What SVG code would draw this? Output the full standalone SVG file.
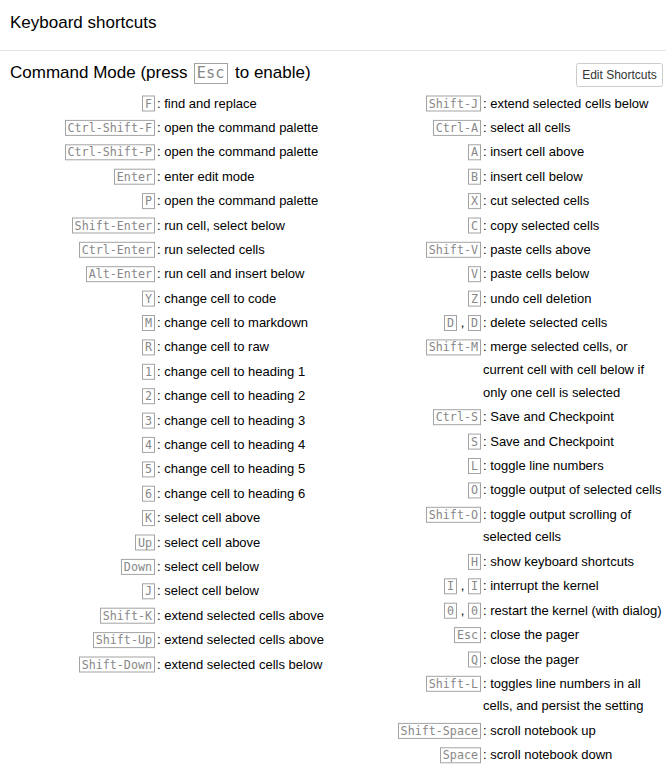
<svg xmlns="http://www.w3.org/2000/svg" width="666" height="769" viewBox="0 0 666 769">
<style>
.t{font-family:"Liberation Sans",Arial,sans-serif;fill:#000}
.h{font-size:17px}
.d{font-size:13px}
.k{font-family:"DejaVu Sans Mono",monospace;font-size:11.7px;fill:#888;text-anchor:end}
.kb{fill:none;stroke:#a3a3a3;stroke-width:1}
.btn{fill:#fff;stroke:#ccc;stroke-width:1}
</style>
<rect width="666" height="769" fill="#fff"/>
<g id="header">
<text class="t h" x="10" y="28">Keyboard shortcuts</text>
<line x1="0" y1="50.5" x2="666" y2="50.5" stroke="#e5e5e5" stroke-width="1"/>
<text class="t h" x="10" y="78">Command Mode (press</text>
<rect class="kb" x="194.5" y="63.5" width="33" height="20"/>
<text class="k" x="224.5" y="78" style="font-size:15.3px">Esc</text>
<text class="t h" x="235" y="78">to enable)</text>
</g>
<g id="edit-shortcuts">
<rect class="btn" x="576.5" y="63.5" width="86" height="23" rx="2"/>
<text class="t" x="619.5" y="79" style="font-size:12px;fill:#333;text-anchor:middle">Edit Shortcuts</text>
</g>
<g id="left-column">
<g id="l0" transform="translate(0,107.5)"><rect class="kb" x="142.5" y="-11.5" width="12" height="15"/><text class="k" x="152" y="0">F</text><text class="t d" x="157" y="0">: find and replace</text></g>
<g id="l1" transform="translate(0,131.9)"><rect class="kb" x="65.5" y="-11.5" width="89" height="15"/><text class="k" x="152" y="0">Ctrl-Shift-F</text><text class="t d" x="157" y="0">: open the command palette</text></g>
<g id="l2" transform="translate(0,156.3)"><rect class="kb" x="65.5" y="-11.5" width="89" height="15"/><text class="k" x="152" y="0">Ctrl-Shift-P</text><text class="t d" x="157" y="0">: open the command palette</text></g>
<g id="l3" transform="translate(0,180.7)"><rect class="kb" x="114.5" y="-11.5" width="40" height="15"/><text class="k" x="152" y="0">Enter</text><text class="t d" x="157" y="0">: enter edit mode</text></g>
<g id="l4" transform="translate(0,205.1)"><rect class="kb" x="142.5" y="-11.5" width="12" height="15"/><text class="k" x="152" y="0">P</text><text class="t d" x="157" y="0">: open the command palette</text></g>
<g id="l5" transform="translate(0,229.5)"><rect class="kb" x="72.5" y="-11.5" width="82" height="15"/><text class="k" x="152" y="0">Shift-Enter</text><text class="t d" x="157" y="0">: run cell, select below</text></g>
<g id="l6" transform="translate(0,253.8)"><rect class="kb" x="79.5" y="-11.5" width="75" height="15"/><text class="k" x="152" y="0">Ctrl-Enter</text><text class="t d" x="157" y="0">: run selected cells</text></g>
<g id="l7" transform="translate(0,278.2)"><rect class="kb" x="86.5" y="-11.5" width="68" height="15"/><text class="k" x="152" y="0">Alt-Enter</text><text class="t d" x="157" y="0">: run cell and insert below</text></g>
<g id="l8" transform="translate(0,302.6)"><rect class="kb" x="142.5" y="-11.5" width="12" height="15"/><text class="k" x="152" y="0">Y</text><text class="t d" x="157" y="0">: change cell to code</text></g>
<g id="l9" transform="translate(0,327)"><rect class="kb" x="142.5" y="-11.5" width="12" height="15"/><text class="k" x="152" y="0">M</text><text class="t d" x="157" y="0">: change cell to markdown</text></g>
<g id="l10" transform="translate(0,351.4)"><rect class="kb" x="142.5" y="-11.5" width="12" height="15"/><text class="k" x="152" y="0">R</text><text class="t d" x="157" y="0">: change cell to raw</text></g>
<g id="l11" transform="translate(0,375.8)"><rect class="kb" x="142.5" y="-11.5" width="12" height="15"/><text class="k" x="152" y="0">1</text><text class="t d" x="157" y="0">: change cell to heading 1</text></g>
<g id="l12" transform="translate(0,400.2)"><rect class="kb" x="142.5" y="-11.5" width="12" height="15"/><text class="k" x="152" y="0">2</text><text class="t d" x="157" y="0">: change cell to heading 2</text></g>
<g id="l13" transform="translate(0,424.6)"><rect class="kb" x="142.5" y="-11.5" width="12" height="15"/><text class="k" x="152" y="0">3</text><text class="t d" x="157" y="0">: change cell to heading 3</text></g>
<g id="l14" transform="translate(0,448.9)"><rect class="kb" x="142.5" y="-11.5" width="12" height="15"/><text class="k" x="152" y="0">4</text><text class="t d" x="157" y="0">: change cell to heading 4</text></g>
<g id="l15" transform="translate(0,473.4)"><rect class="kb" x="142.5" y="-11.5" width="12" height="15"/><text class="k" x="152" y="0">5</text><text class="t d" x="157" y="0">: change cell to heading 5</text></g>
<g id="l16" transform="translate(0,497.7)"><rect class="kb" x="142.5" y="-11.5" width="12" height="15"/><text class="k" x="152" y="0">6</text><text class="t d" x="157" y="0">: change cell to heading 6</text></g>
<g id="l17" transform="translate(0,522.1)"><rect class="kb" x="142.5" y="-11.5" width="12" height="15"/><text class="k" x="152" y="0">K</text><text class="t d" x="157" y="0">: select cell above</text></g>
<g id="l18" transform="translate(0,546.5)"><rect class="kb" x="135.5" y="-11.5" width="19" height="15"/><text class="k" x="152" y="0">Up</text><text class="t d" x="157" y="0">: select cell above</text></g>
<g id="l19" transform="translate(0,570.9)"><rect class="kb" x="121.5" y="-11.5" width="33" height="15"/><text class="k" x="152" y="0">Down</text><text class="t d" x="157" y="0">: select cell below</text></g>
<g id="l20" transform="translate(0,595.3)"><rect class="kb" x="142.5" y="-11.5" width="12" height="15"/><text class="k" x="152" y="0">J</text><text class="t d" x="157" y="0">: select cell below</text></g>
<g id="l21" transform="translate(0,619.7)"><rect class="kb" x="100.5" y="-11.5" width="54" height="15"/><text class="k" x="152" y="0">Shift-K</text><text class="t d" x="157" y="0">: extend selected cells above</text></g>
<g id="l22" transform="translate(0,644.1)"><rect class="kb" x="93.5" y="-11.5" width="61" height="15"/><text class="k" x="152" y="0">Shift-Up</text><text class="t d" x="157" y="0">: extend selected cells above</text></g>
<g id="l23" transform="translate(0,668.5)"><rect class="kb" x="79.5" y="-11.5" width="75" height="15"/><text class="k" x="152" y="0">Shift-Down</text><text class="t d" x="157" y="0">: extend selected cells below</text></g>
</g>
<g id="right-column">
<g id="r0" transform="translate(0,107.5)"><rect class="kb" x="426.5" y="-11.5" width="54" height="15"/><text class="k" x="478" y="0">Shift-J</text><text class="t d" x="483" y="0">: extend selected cells below</text></g>
<g id="r1" transform="translate(0,131.9)"><rect class="kb" x="433.5" y="-11.5" width="47" height="15"/><text class="k" x="478" y="0">Ctrl-A</text><text class="t d" x="483" y="0">: select all cells</text></g>
<g id="r2" transform="translate(0,156.3)"><rect class="kb" x="468.5" y="-11.5" width="12" height="15"/><text class="k" x="478" y="0">A</text><text class="t d" x="483" y="0">: insert cell above</text></g>
<g id="r3" transform="translate(0,180.7)"><rect class="kb" x="468.5" y="-11.5" width="12" height="15"/><text class="k" x="478" y="0">B</text><text class="t d" x="483" y="0">: insert cell below</text></g>
<g id="r4" transform="translate(0,205.1)"><rect class="kb" x="468.5" y="-11.5" width="12" height="15"/><text class="k" x="478" y="0">X</text><text class="t d" x="483" y="0">: cut selected cells</text></g>
<g id="r5" transform="translate(0,229.5)"><rect class="kb" x="468.5" y="-11.5" width="12" height="15"/><text class="k" x="478" y="0">C</text><text class="t d" x="483" y="0">: copy selected cells</text></g>
<g id="r6" transform="translate(0,253.8)"><rect class="kb" x="426.5" y="-11.5" width="54" height="15"/><text class="k" x="478" y="0">Shift-V</text><text class="t d" x="483" y="0">: paste cells above</text></g>
<g id="r7" transform="translate(0,278.2)"><rect class="kb" x="468.5" y="-11.5" width="12" height="15"/><text class="k" x="478" y="0">V</text><text class="t d" x="483" y="0">: paste cells below</text></g>
<g id="r8" transform="translate(0,302.6)"><rect class="kb" x="468.5" y="-11.5" width="12" height="15"/><text class="k" x="478" y="0">Z</text><text class="t d" x="483" y="0">: undo cell deletion</text></g>
<g id="r9" transform="translate(0,327)"><rect class="kb" x="444.5" y="-11.5" width="12" height="15"/><text class="k" x="454" y="0">D</text><text class="t d" x="462.5" y="0" text-anchor="middle">,</text><rect class="kb" x="468.5" y="-11.5" width="12" height="15"/><text class="k" x="478" y="0">D</text><text class="t d" x="483" y="0">: delete selected cells</text></g>
<g id="r10" transform="translate(0,351.4)"><rect class="kb" x="426.5" y="-11.5" width="54" height="15"/><text class="k" x="478" y="0">Shift-M</text><text class="t d" x="483" y="0">: merge selected cells, or</text><text class="t d" x="483" y="22.7">current cell with cell below if</text><text class="t d" x="483" y="45.4">only one cell is selected</text></g>
<g id="r11" transform="translate(0,421.2)"><rect class="kb" x="433.5" y="-11.5" width="47" height="15"/><text class="k" x="478" y="0">Ctrl-S</text><text class="t d" x="483" y="0">: Save and Checkpoint</text></g>
<g id="r12" transform="translate(0,445.6)"><rect class="kb" x="468.5" y="-11.5" width="12" height="15"/><text class="k" x="478" y="0">S</text><text class="t d" x="483" y="0">: Save and Checkpoint</text></g>
<g id="r13" transform="translate(0,470)"><rect class="kb" x="468.5" y="-11.5" width="12" height="15"/><text class="k" x="478" y="0">L</text><text class="t d" x="483" y="0">: toggle line numbers</text></g>
<g id="r14" transform="translate(0,494.4)"><rect class="kb" x="468.5" y="-11.5" width="12" height="15"/><text class="k" x="478" y="0">O</text><text class="t d" x="483" y="0">: toggle output of selected cells</text></g>
<g id="r15" transform="translate(0,518.8)"><rect class="kb" x="426.5" y="-11.5" width="54" height="15"/><text class="k" x="478" y="0">Shift-O</text><text class="t d" x="483" y="0">: toggle output scrolling of</text><text class="t d" x="483" y="22.7">selected cells</text></g>
<g id="r16" transform="translate(0,565.9)"><rect class="kb" x="468.5" y="-11.5" width="12" height="15"/><text class="k" x="478" y="0">H</text><text class="t d" x="483" y="0">: show keyboard shortcuts</text></g>
<g id="r17" transform="translate(0,590.3)"><rect class="kb" x="444.5" y="-11.5" width="12" height="15"/><text class="k" x="454" y="0">I</text><text class="t d" x="462.5" y="0" text-anchor="middle">,</text><rect class="kb" x="468.5" y="-11.5" width="12" height="15"/><text class="k" x="478" y="0">I</text><text class="t d" x="483" y="0">: interrupt the kernel</text></g>
<g id="r18" transform="translate(0,614.7)"><rect class="kb" x="444.5" y="-11.5" width="12" height="15"/><text class="k" x="454" y="0">0</text><text class="t d" x="462.5" y="0" text-anchor="middle">,</text><rect class="kb" x="468.5" y="-11.5" width="12" height="15"/><text class="k" x="478" y="0">0</text><text class="t d" x="483" y="0">: restart the kernel (with dialog)</text></g>
<g id="r19" transform="translate(0,639.1)"><rect class="kb" x="454.5" y="-11.5" width="26" height="15"/><text class="k" x="478" y="0">Esc</text><text class="t d" x="483" y="0">: close the pager</text></g>
<g id="r20" transform="translate(0,663.5)"><rect class="kb" x="468.5" y="-11.5" width="12" height="15"/><text class="k" x="478" y="0">Q</text><text class="t d" x="483" y="0">: close the pager</text></g>
<g id="r21" transform="translate(0,687.8)"><rect class="kb" x="426.5" y="-11.5" width="54" height="15"/><text class="k" x="478" y="0">Shift-L</text><text class="t d" x="483" y="0">: toggles line numbers in all</text><text class="t d" x="483" y="22.7">cells, and persist the setting</text></g>
<g id="r22" transform="translate(0,734.9)"><rect class="kb" x="398.5" y="-11.5" width="82" height="15"/><text class="k" x="478" y="0">Shift-Space</text><text class="t d" x="483" y="0">: scroll notebook up</text></g>
<g id="r23" transform="translate(0,759.3)"><rect class="kb" x="440.5" y="-11.5" width="40" height="15"/><text class="k" x="478" y="0">Space</text><text class="t d" x="483" y="0">: scroll notebook down</text></g>
</g>
</svg>
